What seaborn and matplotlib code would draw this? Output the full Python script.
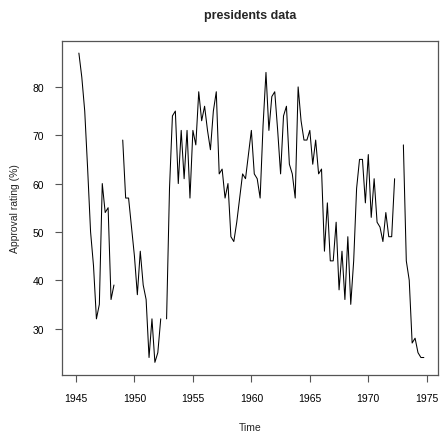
import numpy as np
import pandas as pd
import matplotlib
matplotlib.use("Agg")
import matplotlib.pyplot as plt
import seaborn as sns

# ── Data: quarterly presidential approval ratings (NaN = missing) ────────────
years = list(range(1945, 1975))
q1 = [np.nan, 63, 35, 36, 69, 45, 36, 25, 59, 71, 71, 76, 79, 60, 57,
      71, 72, 79, 76, 80, 71, 63, 44, 36, 59, 66, 51, 49, 68, 28]
q2 = [87, 50, 60, 39, 57, 37, 24, 32, 74, 61, 68, 71, 62, 49, 62,
      62, 83, 71, 64, 73, 64, 46, 52, 49, 65, 53, 48, 61, 44, 25]
q3 = [82, 43, 54, np.nan, 57, 46, 32, np.nan, 75, 71, 79, 67, 63, 48, 61,
      61, 71, 62, 62, 69, 69, 56, 38, 35, 65, 61, 54, np.nan, 40, 24]
q4 = [75, 32, 55, np.nan, 51, 39, 23, 32, 60, 57, 73, 75, 57, 52, 66,
      57, 78, 74, 57, 69, 62, 44, 46, 44, 56, 52, 49, np.nan, 27, 24]

time = []
rating = []
for i, yr in enumerate(years):
    for k, q in enumerate([q1, q2, q3, q4]):
        time.append(yr + k / 4)
        rating.append(q[i])

df = pd.DataFrame({"Time": time, "rating": rating})
# break the line at missing values
df["segment"] = df["rating"].isna().cumsum()
df = df.dropna()

# ── Styling ──────────────────────────────────────────────────────────────────
sns.set_theme(style="ticks")
plt.rcParams["font.family"] = ["Liberation Sans", "DejaVu Sans"]

fig = plt.figure(figsize=(4.4, 4.35), dpi=100)
ax = fig.add_axes([0.141, 0.1363, 0.8539, 0.7678])

sns.lineplot(data=df, x="Time", y="rating", units="segment", estimator=None,
             color="black", linewidth=0.75, ax=ax)

# R-style axis ranges (4% padding)
ax.set_xlim(1943.81, 1975.94)
ax.set_ylim(20.44, 89.56)
ax.set_xticks(range(1945, 1976, 5))
ax.set_yticks(range(30, 81, 10))

for s in ax.spines.values():
    s.set_color("#555555")
    s.set_linewidth(0.9)
ax.tick_params(axis="both", length=5, width=0.8, color="#555555",
               labelsize=7.5, pad=8, labelcolor="black")

ax.set_xlabel("Time", fontsize=7.5, labelpad=14)
ax.set_ylabel("Approval rating (%)", fontsize=7.5, labelpad=9)
ax.set_title("presidents data", fontsize=9, fontweight="bold", pad=16)

fig.savefig("out.png", dpi=100)
plt.close(fig)
